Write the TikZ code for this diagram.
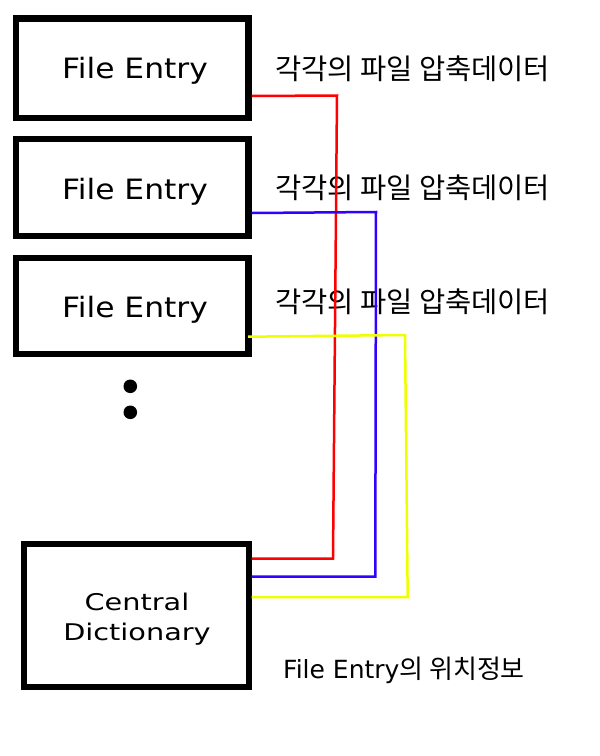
\documentclass[tikz,border=0pt]{standalone}
\usepackage{fontspec}
\newfontfamily\dvs{DejaVu Sans}
\newfontfamily\dvsbox[FakeStretch=1.12]{DejaVu Sans}
\newfontfamily\dvscd[FakeStretch=1.25]{DejaVu Sans}
\newfontfamily\kr{Noto Sans CJK KR}
\definecolor{lnred}{RGB}{255,0,0}
\definecolor{lnblue}{RGB}{51,0,255}
\definecolor{lnyellow}{RGB}{240,255,0}
\begin{document}
\begin{tikzpicture}[x=1pt,y=-1pt,
  entrybox/.style={draw=black, line width=6.5pt, inner sep=0pt, minimum width=232.3pt},
  cdbox/.style={draw=black, line width=6pt, inner sep=0pt, minimum width=225pt, minimum height=143pt},
  entrytext/.style={anchor=base, inner sep=0pt, font=\dvsbox\fontsize{28}{32}\selectfont},
  cdtext/.style={align=center, inner sep=0pt, font=\dvscd\fontsize{23}{29.5}\selectfont},
  krtext/.style={anchor=base west, inner sep=0pt, font=\kr\fontsize{28.5}{32}\selectfont},
  dotmark/.style={circle, fill=black, inner sep=0pt, minimum size=13.6pt},
  conn/.style={line width=2.5pt},
]
\useasboundingbox (0,0) rectangle (600,756);
\fill[white] (0,0) rectangle (600,756);

\node[entrybox, minimum height=99.5pt] (b1) at (132.2,68) {};
\node[entrybox, minimum height=97pt] (b2) at (132.2,187.5) {};
\node[entrybox, minimum height=96pt] (b3) at (132.2,306) {};
\node[cdbox] (cd) at (136,615) {};

\node[entrytext] (t1) at (135,78) {File Entry};
\node[entrytext] (t2) at (135,199) {File Entry};
\node[entrytext] (t3) at (135,317.5) {File Entry};
\node[cdtext] (tcd) at (137,619) {Central\\Dictionary};

\node[dotmark] (d1) at (130.3,386.3) {};
\node[dotmark] (d2) at (130.3,412.3) {};

\node[krtext] (k1) at (275,79.5) {각각의 파일 압축데이터};
\node[krtext] (k2) at (275,198.5) {각각의 파일 압축데이터};
\node[krtext] (k3) at (275,312) {각각의 파일 압축데이터};
\node[anchor=base west, inner sep=0pt] (kb) at (283,678)
  {\dvs\fontsize{25}{30}\selectfont File Entry{\kr\fontsize{26}{30}\selectfont 의 위치정보}};

\coordinate (r1) at (337,95.5);
\coordinate (r2) at (333,558.5);
\coordinate (u1) at (376,212);
\coordinate (u2) at (375.3,576.5);
\coordinate (y1) at (405,335);
\coordinate (y2) at (407.7,597);

\draw[conn, lnred] ([yshift=-28pt]b1.east) -- (r1) -- (r2) -- ([yshift=56.5pt]cd.east);
\draw[conn, lnblue] ([yshift=-25.5pt]b2.east) -- (u1) -- (u2) -- ([yshift=38.5pt]cd.east);
\draw[conn, lnyellow] ([xshift=-3.5pt,yshift=-30.7pt]b3.east) -- (y1) -- (y2) -- ([yshift=18pt]cd.east);
\end{tikzpicture}
\end{document}
